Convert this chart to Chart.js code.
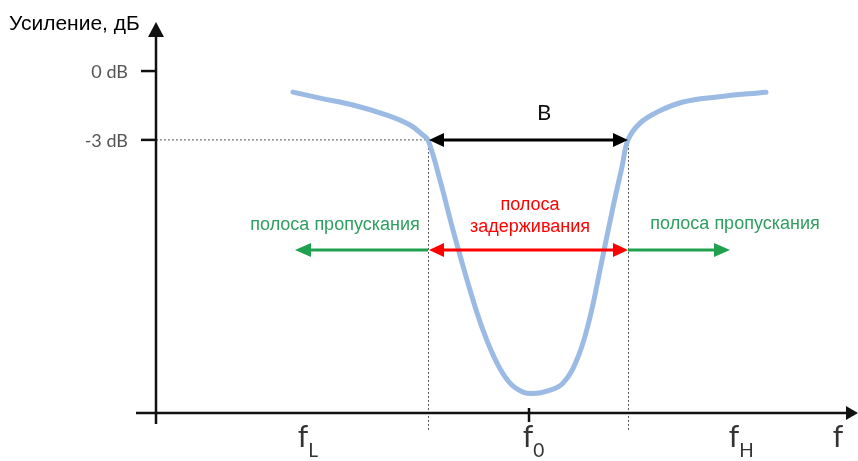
<!DOCTYPE html>
<html><head><meta charset="utf-8">
<script src="https://cdn.jsdelivr.net/npm/chart.js@4.4.0/dist/chart.umd.min.js"></script>
<style>html,body{margin:0;padding:0;background:#fff;}#wrap{width:858px;height:461px;}</style>
</head><body><div id="wrap"><canvas id="c" width="858" height="461"></canvas></div>
<script>
// normalized frequency (cutoff points at -1 and +1, center f0 at 0)
const freq   = [-2.35,-2.08,-1.75,-1.41,-1.18,-1.05,-1.00,-0.88,-0.75,-0.58,-0.45,-0.31,-0.18,-0.05,0.06,0.19,0.35,0.50,0.62,0.72,0.85,0.94,1.00,1.12,1.29,1.55,1.89,2.38];
const gainDb = [-0.92,-1.18,-1.48,-1.92,-2.35,-2.79,-3.00,-4.75,-6.93,-9.54,-11.29,-12.73,-13.60,-13.99,-14.05,-13.95,-13.60,-12.46,-10.72,-8.67,-5.93,-4.18,-3.00,-2.27,-1.79,-1.35,-1.13,-0.92];
const yTickValues = [0, -3];
const yTickLabels = ['0 dB', '-3 dB'];
const cutoffFreqs = [-1, 1];
const centerFreq = 0;
const xLabelMain = ['f', 'f', 'f', 'f'];
const xLabelSub  = ['L', '0', 'H', ''];
const xLabelFreq = [-2.25, 0, 2.06, 3.1];
const passArrowEnds = [-2.33, 2.02];
const passTextFreq = [-1.93, 2.07];
const bandArrowDb = -7.8;
const yTitle = 'Усиление, дБ';
const bandwidthLabel = 'B';
const passText = 'полоса пропускания';
const stopText = ['полоса', 'задерживания'];

const pts = freq.map((f,i)=>({x:f, y:gainDb[i]}));

function arrowHead(ctx, tx, ty, dir, len, half, color){
  ctx.save(); ctx.fillStyle=color; ctx.beginPath();
  if(dir==='left'){ctx.moveTo(tx,ty);ctx.lineTo(tx+len,ty-half);ctx.lineTo(tx+len,ty+half);}
  else if(dir==='right'){ctx.moveTo(tx,ty);ctx.lineTo(tx-len,ty-half);ctx.lineTo(tx-len,ty+half);}
  else if(dir==='up'){ctx.moveTo(tx,ty);ctx.lineTo(tx-half,ty+len);ctx.lineTo(tx+half,ty+len);}
  ctx.closePath(); ctx.fill(); ctx.restore();
}
function hline(ctx,x1,x2,yy,color,w){ctx.save();ctx.strokeStyle=color;ctx.lineWidth=w;ctx.beginPath();ctx.moveTo(x1,yy);ctx.lineTo(x2,yy);ctx.stroke();ctx.restore();}

const deco = {
  id:'deco',
  beforeDatasetsDraw(chart){
    const {ctx, scales:{x,y}} = chart;
    ctx.save();
    ctx.strokeStyle='#555'; ctx.lineWidth=1; ctx.setLineDash([2,2]);
    const y3 = y.getPixelForValue(-3);
    ctx.beginPath(); ctx.moveTo(x.left, y3); ctx.lineTo(x.getPixelForValue(cutoffFreqs[0]), y3); ctx.stroke();
    cutoffFreqs.forEach(c=>{const px=Math.round(x.getPixelForValue(c))+0.5; ctx.beginPath(); ctx.moveTo(px,y3); ctx.lineTo(px,y.bottom+18); ctx.stroke();});
    ctx.restore();
  },
  afterDatasetsDraw(chart){
    const {ctx, scales:{x,y}} = chart;
    const L=x.left, B=y.bottom;
    ctx.save();
    // axes
    ctx.strokeStyle='#111'; ctx.lineWidth=2.5;
    ctx.beginPath(); ctx.moveTo(L-20,B); ctx.lineTo(848,B); ctx.stroke();
    ctx.beginPath(); ctx.moveTo(L,B+11); ctx.lineTo(L,y.top+10); ctx.stroke();
    arrowHead(ctx,858,B,'right',12,7,'#111');
    arrowHead(ctx,L,y.top-2,'up',15,8,'#111');
    // y ticks
    ctx.font='18px Lato'; ctx.fillStyle='#555'; ctx.textAlign='right'; ctx.textBaseline='middle';
    yTickValues.forEach((v,i)=>{const py=y.getPixelForValue(v); hline(ctx,L-15,L,py,'#111',2.5); ctx.fillText(yTickLabels[i],L-28,py+1);});
    // f0 tick
    const pc=x.getPixelForValue(centerFreq)+1;
    ctx.beginPath(); ctx.strokeStyle='#111'; ctx.lineWidth=2.5; ctx.moveTo(pc,B-5); ctx.lineTo(pc,B+9); ctx.stroke();
    // x labels
    ctx.fillStyle='#333'; ctx.textBaseline='alphabetic';
    xLabelFreq.forEach((f,i)=>{
      const px=x.getPixelForValue(f);
      ctx.font='30px Lato'; ctx.textAlign='center';
      const w=ctx.measureText(xLabelMain[i]).width;
      ctx.fillText(xLabelMain[i],px,447);
      if(xLabelSub[i]){ctx.font='19px Lato'; ctx.textAlign='left'; ctx.fillText(xLabelSub[i],px+w/2,457);}
    });
    // title
    ctx.font='21px "Liberation Sans"'; ctx.fillStyle='#000'; ctx.textAlign='left';
    ctx.fillText(yTitle,9,30);
    // bandwidth arrow
    const c1=x.getPixelForValue(cutoffFreqs[0]), c2=x.getPixelForValue(cutoffFreqs[1]);
    const y3=y.getPixelForValue(-3);
    hline(ctx,c1+8,c2-8,y3,'#000',3);
    arrowHead(ctx,c1+1,y3,'left',15,7,'#000');
    arrowHead(ctx,c2,y3,'right',15,7,'#000');
    ctx.font='22px Lato'; ctx.fillStyle='#111'; ctx.textAlign='center';
    ctx.fillText(bandwidthLabel,x.getPixelForValue(0.16),y.getPixelForValue(-2.13));
    // band arrows
    const yb=y.getPixelForValue(bandArrowDb);
    const green='#1fa150';
    hline(ctx,x.getPixelForValue(passArrowEnds[0])+10,c1,yb,green,3);
    arrowHead(ctx,x.getPixelForValue(passArrowEnds[0]),yb,'left',16,7,green);
    hline(ctx,c2,x.getPixelForValue(passArrowEnds[1])-10,yb,green,3);
    arrowHead(ctx,x.getPixelForValue(passArrowEnds[1]),yb,'right',16,7,green);
    hline(ctx,c1+8,c2-8,yb,'#ff0000',3);
    arrowHead(ctx,c1+1,yb,'left',15,7,'#ff0000');
    arrowHead(ctx,c2,yb,'right',15,7,'#ff0000');
    // band texts
    ctx.font='18px "Liberation Sans"'; ctx.textAlign='center';
    ctx.fillStyle='#2e9e5e';
    ctx.fillText(passText,x.getPixelForValue(passTextFreq[0]),230);
    ctx.fillText(passText,x.getPixelForValue(passTextFreq[1]),229);
    ctx.fillStyle='#ff0000';
    ctx.fillText(stopText[0],x.getPixelForValue(centerFreq)+2,210);
    ctx.fillText(stopText[1],x.getPixelForValue(centerFreq)+2,232);
    ctx.restore();
  }
};

new Chart(document.getElementById('c'),{
  type:'line',
  data:{datasets:[{data:pts,borderColor:'#9bbbe4',borderWidth:5,pointRadius:0,fill:false,tension:0.4,borderCapStyle:'round',borderJoinStyle:'round'}]},
  options:{
    responsive:false, devicePixelRatio:1, animation:false,
    layout:{padding:{left:156,right:2,top:24,bottom:48}},
    plugins:{legend:{display:false},tooltip:{enabled:false}},
    scales:{
      x:{type:'linear',min:-3.72,max:3.28,display:false},
      y:{type:'linear',min:-14.9,max:2.05,display:false}
    }
  },
  plugins:[deco]
});
</script></body></html>
